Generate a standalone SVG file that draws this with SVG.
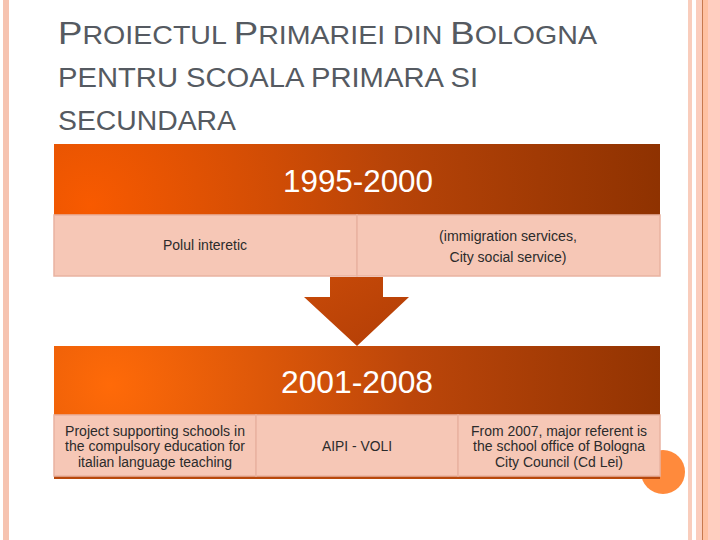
<svg xmlns="http://www.w3.org/2000/svg" width="720" height="540" viewBox="0 0 720 540">
<defs>
<radialGradient id="g1" gradientUnits="userSpaceOnUse" cx="90" cy="205" r="600" fx="90" fy="205">
<stop offset="0" stop-color="#F85A00"/>
<stop offset="0.5" stop-color="#B84408"/>
<stop offset="1" stop-color="#8A3000"/>
</radialGradient>
<radialGradient id="g2" gradientUnits="userSpaceOnUse" cx="110" cy="385" r="600" fx="110" fy="385">
<stop offset="0" stop-color="#FF6A08"/>
<stop offset="0.5" stop-color="#BC460A"/>
<stop offset="1" stop-color="#8A3000"/>
</radialGradient>
<linearGradient id="ga" x1="0" y1="0" x2="1" y2="1">
<stop offset="0" stop-color="#C84A08"/>
<stop offset="1" stop-color="#B23E06"/>
</linearGradient>
<style>
.title{font-family:"Liberation Sans",Arial,sans-serif;fill:#555A61}
.year{font-family:"Liberation Sans",Arial,sans-serif;fill:#FFFFFF;font-size:32px;text-anchor:middle}
.cell{fill:#F6C7B6;stroke:#E9B3A1;stroke-width:1.5}
.ct{font-family:"Liberation Sans",Arial,sans-serif;fill:#2B2B2B;font-size:14px;text-anchor:middle}
</style>
</defs>
<rect width="720" height="540" fill="#FFFFFF"/>
<!-- borders -->
<rect x="3" y="0" width="6" height="540" fill="#F6C3B0"/>
<rect x="688" y="0" width="4" height="540" fill="#F9CDBC"/>
<rect x="696" y="0" width="6" height="540" fill="#FBCDBD"/>
<rect x="702" y="0" width="1.2" height="540" fill="#C8794E"/>
<rect x="703" y="0" width="5" height="540" fill="#FFC1A2"/>
<rect x="708" y="0" width="12" height="540" fill="#FFCEC0"/>
<!-- title -->
<g id="title" class="title">
<text x="58" y="44" font-size="25" textLength="539" lengthAdjust="spacingAndGlyphs"><tspan font-size="32">P</tspan>ROIECTUL <tspan font-size="32">P</tspan>RIMARIEI DIN <tspan font-size="32">B</tspan>OLOGNA</text>
<text x="58" y="87" font-size="27" textLength="420" lengthAdjust="spacingAndGlyphs">PENTRU SCOALA PRIMARA SI</text>
<text x="58" y="130" font-size="27" textLength="178" lengthAdjust="spacingAndGlyphs">SECUNDARA</text>
</g>
<!-- orange circle -->
<circle cx="663" cy="472" r="22" fill="#FF8A3C"/>
<!-- block 1 -->
<g id="block1">
<rect x="54" y="144" width="606" height="71" fill="url(#g1)"/>
<text class="year" x="358" y="192" textLength="150" lengthAdjust="spacingAndGlyphs">1995-2000</text>
</g>
<g id="cell1a">
<rect class="cell" x="54" y="215" width="303" height="61"/>
<text class="ct" x="205" y="250" textLength="84" lengthAdjust="spacingAndGlyphs">Polul interetic</text>
</g>
<g id="cell1b">
<rect class="cell" x="357" y="215" width="303" height="61"/>
<text class="ct" x="508" y="241" textLength="138" lengthAdjust="spacingAndGlyphs">(immigration services,</text>
<text class="ct" x="508" y="262" textLength="117" lengthAdjust="spacingAndGlyphs">City social service)</text>
</g>
<!-- arrow connector -->
<g id="connectors">
<polygon points="330,277 383,277 383,297 409,297 357,346 304,297 330,297" fill="url(#ga)"/>
</g>
<!-- block 2 -->
<g id="block2">
<rect x="54" y="346" width="606" height="69" fill="url(#g2)"/>
<text class="year" x="357" y="393" textLength="152" lengthAdjust="spacingAndGlyphs">2001-2008</text>
</g>
<rect x="54" y="475" width="606" height="4" fill="#B8480C"/>
<g id="cell2a">
<rect class="cell" x="54" y="415" width="202" height="61"/>
<text class="ct" x="155" y="436" textLength="180" lengthAdjust="spacingAndGlyphs">Project supporting schools in</text>
<text class="ct" x="155" y="451" textLength="180" lengthAdjust="spacingAndGlyphs">the compulsory education for</text>
<text class="ct" x="155" y="467" textLength="154" lengthAdjust="spacingAndGlyphs">italian language teaching</text>
</g>
<g id="cell2b">
<rect class="cell" x="256" y="415" width="202" height="61"/>
<text class="ct" x="357" y="451" textLength="70" lengthAdjust="spacingAndGlyphs">AIPI - VOLI</text>
</g>
<g id="cell2c">
<rect class="cell" x="458" y="415" width="202" height="61"/>
<text class="ct" x="559" y="436" textLength="176" lengthAdjust="spacingAndGlyphs">From 2007, major referent is</text>
<text class="ct" x="559" y="451" textLength="172" lengthAdjust="spacingAndGlyphs">the school office of Bologna</text>
<text class="ct" x="559" y="467" textLength="128" lengthAdjust="spacingAndGlyphs">City Council (Cd Lei)</text>
</g>
</svg>
